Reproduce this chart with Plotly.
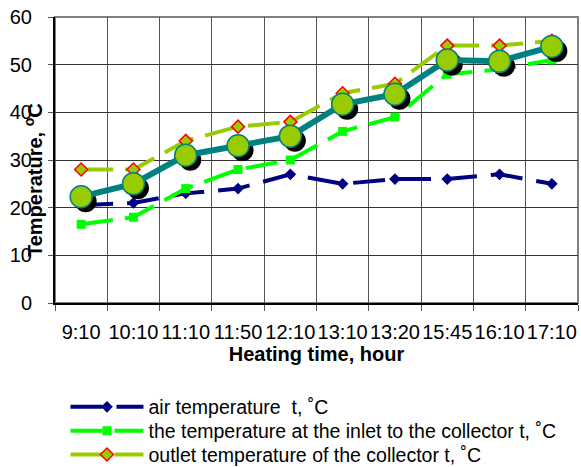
import plotly.graph_objects as go

# ── Data ─────────────────────────────────────────────────────────────────────
times = ["9:10", "10:10", "11:10", "11:50", "12:10",
         "13:10", "13:20", "15:45", "16:10", "17:10"]

air_temp    = [20.5, 21, 23, 24, 27, 25, 26, 26, 27, 25]
inlet_temp  = [16.5, 18, 24, 28, 30, 36, 39, 48, 49, 51]
outlet_temp = [28, 28, 34, 37, 38, 44, 46, 54, 54, 55]
mean_temp   = [22.3, 25, 31, 33, 35, 41.7, 43.8, 51, 50.7, 53.8]

NAVY, LIME, OLIVE, TEAL = "#000080", "#00FF00", "#99CC00", "#008080"
FONT = "Liberation Sans, Arial, sans-serif"

fig = go.Figure()

fig.add_trace(go.Scatter(
    x=times, y=air_temp, name="air temperature  t, ˚C", legend="legend",
    mode="lines+markers",
    line=dict(color=NAVY, width=4, dash="32px,14px"),
    marker=dict(symbol="diamond", size=9, color=NAVY),
))
fig.add_trace(go.Scatter(
    x=times, y=inlet_temp, name="the temperature at the inlet to the collector t, ˚C",
    legend="legend2", mode="lines+markers",
    line=dict(color=LIME, width=4, dash="32px,12px"),
    marker=dict(symbol="square", size=9, color=LIME),
))
fig.add_trace(go.Scatter(
    x=times, y=outlet_temp, name="outlet temperature of the collector t, ˚C",
    legend="legend3", mode="lines+markers",
    line=dict(color=OLIVE, width=4, dash="32px,12px"),
    marker=dict(symbol="diamond", size=10, color=OLIVE,
                line=dict(color="#FF0000", width=1.5)),
))
# shadow of the big circles: same data on slightly shifted hidden axes
fig.add_trace(go.Scatter(
    x=times, y=mean_temp, mode="markers", showlegend=False,
    xaxis="x2", yaxis="y2", hoverinfo="skip",
    marker=dict(symbol="circle", size=22, color="#000000"),
))
# teal line with big circles, on its own overlay so it sits above the shadow
fig.add_trace(go.Scatter(
    x=times, y=mean_temp, mode="lines+markers", showlegend=False,
    xaxis="x3", yaxis="y3",
    line=dict(color=TEAL, width=6),
    marker=dict(symbol="circle", size=22, color=OLIVE,
                line=dict(color=TEAL, width=1.5)),
))

# frame of the plot area (gray top/right edges)
fig.add_shape(type="rect", xref="paper", yref="paper", x0=0, x1=1, y0=0, y1=1,
              line=dict(color="#808080", width=2), layer="below")

fig.add_annotation(
    text="<b>Temperature, <sup>o</sup>C</b>", textangle=-90,
    xref="paper", yref="paper", x=-0.042, y=0.43, xanchor="center", yanchor="middle",
    showarrow=False, font=dict(family=FONT, size=20, color="#000000"),
)

dx = 4.5 / 52.3   # shadow offset in category units
dy = 4.5 / 4.77   # shadow offset in degrees

cat_axis = dict(type="category", categoryorder="array", categoryarray=times)


def legend_row(y):
    # one legend per row so the row spacing can follow the reference
    return dict(x=0.02, y=y, xanchor="left", yanchor="middle",
                font=dict(size=19.5), itemwidth=73,
                bgcolor="rgba(0,0,0,0)", borderwidth=0)


fig.update_layout(
    width=581, height=467,
    margin=dict(l=55, r=3, t=17, b=164, autoexpand=False),
    paper_bgcolor="white", plot_bgcolor="white",
    font=dict(family=FONT, size=20, color="#000000"),
    xaxis=dict(
        **cat_axis, automargin=False,
        range=[-0.5, 9.5], tickson="boundaries", tickangle=0,
        showgrid=True, gridcolor="#555555", gridwidth=1,
        showline=True, linecolor="#000000", linewidth=2,
        ticks="outside", ticklen=6, tickcolor="#555555",
        tickfont=dict(size=20), ticklabelstandoff=10,
        title=dict(text="<b>Heating time, hour</b>", font=dict(size=20), standoff=5),
    ),
    yaxis=dict(
        automargin=False,
        range=[0, 60], dtick=10,
        showgrid=True, gridcolor="#333333", gridwidth=1, zeroline=False,
        showline=True, linecolor="#000000", linewidth=2,
        ticks="outside", ticklen=5, tickcolor="#555555",
        tickfont=dict(size=20), ticklabelstandoff=12,
    ),
    xaxis2=dict(**cat_axis, overlaying="x", range=[-0.5 - dx, 9.5 - dx], visible=False),
    yaxis2=dict(overlaying="y", range=[dy, 60 + dy], visible=False),
    xaxis3=dict(**cat_axis, overlaying="x", range=[-0.5, 9.5], visible=False),
    yaxis3=dict(overlaying="y", range=[0, 60], visible=False),
    legend=legend_row(-0.364),
    legend2=legend_row(-0.448),
    legend3=legend_row(-0.531),
    showlegend=True,
)

# the page body has a default 8px margin; drop it so the figure fills the window
fig.write_html("out.html", config={"displayModeBar": False},
               post_script="document.body.style.margin='0px';")
